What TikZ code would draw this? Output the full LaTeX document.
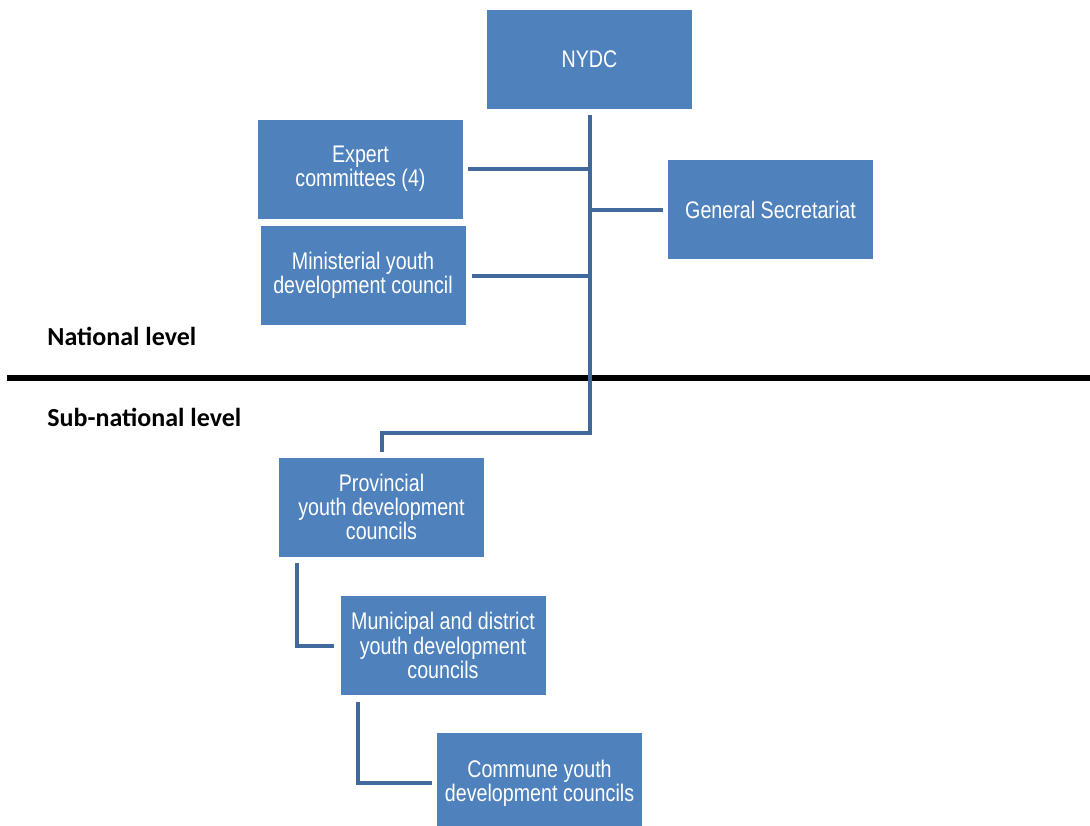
\documentclass[tikz,border=0pt]{standalone}
\usepackage{fontspec}
\setmainfont{Liberation Sans}[FakeStretch=0.82]
\newfontfamily\levelfont{Carlito}
\definecolor{nodeblue}{HTML}{4F81BD}
\definecolor{linkblue}{HTML}{41699B}

\begin{document}
\begin{tikzpicture}
            [
                x = 0.5pt, y = -0.5pt,
                every node/.style = {inner sep=0pt},
                unit/.style  = {shape=rectangle, fill=nodeblue, text=white,
                align=center, minimum width=102.5pt, minimum height=49.5pt,
                font=\fontsize{12}{12.2}\selectfont},
                link/.style  = {draw=linkblue, line width=2pt},
                level/.style = {anchor=west,
                font=\levelfont\bfseries\fontsize{13}{15}\selectfont}
            ]
            \clip (0,0) rectangle (1090,825);
            % national level
            \node[unit] (nydc)   at (589.5,59.5) {NYDC};
            \node[unit] (expert) at (360.5,169)  {Expert\\committees (4)};
            \node[unit] (minist) at (363,275.5)  {Ministerial youth\\development council};
            \node[unit] (gensec) at (770.5,209.5) {General Secretariat};
            % sub-national level
            \node[unit] (prov)   at (381.5,507)  {Provincial\\youth development\\councils};
            \node[unit] (muni)   at (443,645.5)  {Municipal and district\\youth development\\councils};
            \node[unit, minimum height=50pt] (commune) at (539.5,783)
                {Commune youth\\development councils};
            \node[level] (national)    at (47,336) {National level};
            \node[level] (subnational) at (47,417) {Sub-national level};
            \coordinate (divleft)  at (7,378);
            \coordinate (divright) at (1090,378);
            \coordinate (split)    at (590,433);
            \draw[line width=3pt] (divleft) -- (divright);
            \draw[link] ([yshift=-3pt]nydc.south) -- (nydc.south |- split)
                -| ([yshift=2.5pt]prov.north);
            \draw[link] ([xshift=2.5pt]expert.east) -- (expert.east -| nydc.south);
            \draw[link] ([xshift=3pt]minist.east) -- (minist.east -| nydc.south);
            \draw[link] (gensec.west -| nydc.south) -- ([xshift=-2.5pt]gensec.west);
            \draw[link] ([xshift=9pt,yshift=-3pt]prov.south west)
                |- ([xshift=-3pt]muni.west);
            \draw[link] ([xshift=9pt,yshift=-3.5pt]muni.south west)
                |- ([xshift=-2.5pt]commune.west);
\end{tikzpicture}
\end{document}
